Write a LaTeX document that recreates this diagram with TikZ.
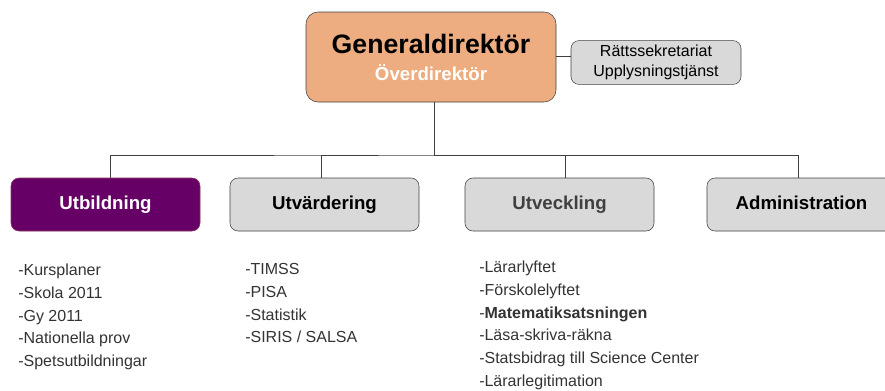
\documentclass[tikz,border=0pt]{standalone}
\usepackage{fontspec}
\setmainfont{Liberation Sans}
\usetikzlibrary{positioning}

\definecolor{chief}{HTML}{EDAD80}
\definecolor{boxgray}{HTML}{D9D9D9}
\definecolor{lila}{HTML}{660066}
\definecolor{linegray}{HTML}{404040}
\definecolor{textgray}{HTML}{333333}

\begin{document}
\begin{tikzpicture}[x=0.75pt, y=-0.75pt]
        \tikzstyle{box} = [rectangle, rounded corners=6pt, minimum width=141.75pt, minimum height=39.75pt, text centered, text height=10pt, text depth=3pt, draw=linegray, fill=boxgray, font=\fontsize{14}{16}\selectfont\bfseries]
        \tikzstyle{line} = [draw=linegray, line width=0.75pt]
        \tikzstyle{list} = [anchor=north west, align=left, inner sep=0pt, text=textgray, font=\fontsize{12}{17}\selectfont]

        \useasboundingbox (0,0) rectangle (885,390);

        \node (gd) [rectangle, rounded corners=9pt, minimum width=187.5pt, minimum height=67.5pt, draw=linegray, fill=chief, align=center] at (431,57)
            {{\fontsize{20}{22}\selectfont\bfseries Generaldirektör}\\[7pt]{\fontsize{14}{16}\selectfont\bfseries\color{white} Överdirektör}};
        \node (rs) [rectangle, rounded corners=6pt, minimum width=127.5pt, minimum height=30.75pt, draw=linegray, fill=boxgray, align=center, font=\fontsize{12}{15}\selectfont] at (656,62.5)
            {Rättssekretariat\\Upplysningstjänst};

        \node (utb) [box, draw=lila!60!brown, fill=lila, text=white] at (105.5,204.5) {Utbildning};
        \node (utv) [box] at (324.5,204.5) {Utvärdering};
        \node (utk) [box, text=linegray] at (559.5,204.5) {Utveckling};
        \node (adm) [box] at (801.5,204.5) {Administration};

        \coordinate (hub) at (434,155);
        \draw [line] (gd.east |- 0,56) -- (rs.west |- 0,56);
        \draw [line] (gd.south -| hub) -- (hub);
        \draw [line] (utb.north -| 110,0) |- (hub) -| (utv.north -| 321,0);
        \draw [line] (hub) -| (utk.north -| 565,0);
        \draw [line] (hub) -| (adm.north -| 798,0);

        \node (utblist) [list] at (18,264) {-Kursplaner\\-Skola 2011\\-Gy 2011\\-Nationella prov\\-Spetsutbildningar};
        \node (utvlist) [list] at (245,263.5) {-TIMSS\\-PISA\\-Statistik\\-SIRIS / SALSA};
        \node (utklist) [list] at (479,261) {-Lärarlyftet\\-Förskolelyftet\\-\textbf{Matematiksatsningen}\\-Läsa-skriva-räkna\\-Statsbidrag till Science Center\\-Lärarlegitimation};
    \end{tikzpicture}
\end{document}
